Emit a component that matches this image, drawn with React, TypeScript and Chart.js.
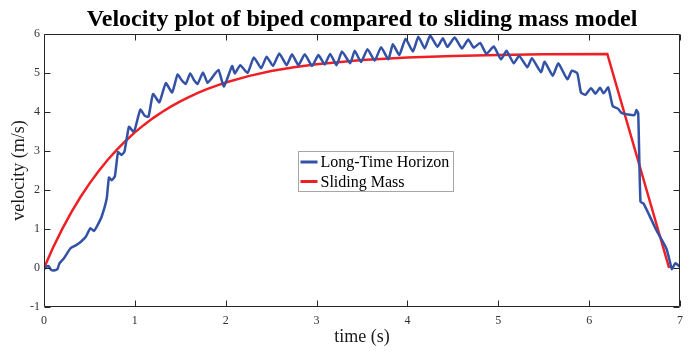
import { useEffect, useRef } from "react";
import { Chart, registerables } from "chart.js";

Chart.register(...registerables);

const TITLE = "Velocity plot of biped compared to sliding mass model";
const X_LABEL = "time (s)";
const Y_LABEL = "velocity (m/s)";
const seriesLabels = ["Long-Time Horizon", "Sliding Mass"];

const xTicks = [0, 1, 2, 3, 4, 5, 6, 7];
const yTicks = [-1, 0, 1, 2, 3, 4, 5, 6];

// Long-Time Horizon (biped) velocity
const blueT = [
  0.0, 0.03, 0.05, 0.08, 0.12, 0.15, 0.17, 0.22, 0.29, 0.35, 0.4, 0.46, 0.51, 0.55, 0.59, 0.635,
  0.69, 0.715, 0.745, 0.78, 0.815, 0.85, 0.885, 0.935, 0.98, 1.0, 1.06, 1.11, 1.15, 1.2, 1.27,
  1.34, 1.41, 1.47, 1.52, 1.56, 1.61, 1.65, 1.69, 1.75, 1.8, 1.84, 1.92, 1.98, 2.07, 2.1, 2.16,
  2.24, 2.31, 2.39, 2.45, 2.52, 2.59, 2.67, 2.73, 2.8, 2.87, 2.95, 3.02, 3.09, 3.15, 3.22, 3.28,
  3.37, 3.42, 3.49, 3.56, 3.64, 3.71, 3.79, 3.84, 3.91, 3.98, 4.06, 4.12, 4.19, 4.25, 4.33, 4.39,
  4.44, 4.52, 4.6, 4.67, 4.73, 4.8, 4.87, 4.95, 5.03, 5.09, 5.17, 5.23, 5.32, 5.37, 5.47, 5.51,
  5.6, 5.66, 5.76, 5.81, 5.87, 5.91, 5.96, 6.02, 6.07, 6.12, 6.16, 6.21, 6.26, 6.32, 6.36, 6.5,
  6.52, 6.54, 6.565, 6.6, 6.74, 6.85, 6.89, 6.91, 6.95, 7.0,
];
const blueV = [
  -0.03, 0.04, 0.05, -0.05, -0.06, -0.02, 0.12, 0.25, 0.5, 0.58, 0.66, 0.8, 1.02, 0.95, 1.1, 1.32,
  1.78, 2.32, 2.25, 2.35, 2.97, 2.9, 2.98, 3.62, 3.5, 3.55, 4.06, 3.9, 3.88, 4.46, 4.25,
  4.74, 4.5, 4.96, 4.8, 4.72, 4.99, 4.82, 4.72, 5.01, 4.75, 4.85, 5.08, 4.65, 5.18, 4.99, 5.2,
  5.0, 5.4, 5.12, 5.42, 5.18, 5.5, 5.2, 5.48, 5.2, 5.48, 5.18, 5.46, 5.22, 5.49, 5.2, 5.55,
  5.25, 5.57, 5.28, 5.61, 5.32, 5.66, 5.35, 5.74, 5.46, 5.88, 5.55, 5.93, 5.63, 5.96, 5.67, 5.89,
  5.67, 5.91, 5.63, 5.86, 5.65, 5.77, 5.49, 5.68, 5.35, 5.57, 5.25, 5.44, 5.15, 5.38, 5.02, 5.29,
  4.93, 5.25, 4.84, 5.06, 4.99, 4.5, 4.44, 4.61, 4.47, 4.62, 4.48, 4.63, 4.15, 4.08, 3.97, 3.92,
  4.05, 3.97, 1.7, 1.65, 0.97, 0.5, 0.15, -0.03, 0.12, 0.03,
];

// Sliding Mass model velocity
const redT = [
  0.0, 0.1, 0.2, 0.3, 0.4, 0.5, 0.6, 0.7, 0.8, 0.9, 1.0, 1.1, 1.2, 1.3, 1.4, 1.5, 1.6, 1.7, 1.8,
  1.9, 2.0, 2.25, 2.5, 2.75, 3.0, 3.5, 4.0, 4.5, 5.0, 5.5, 6.2, 6.88,
];
const redV = [
  0.0, 0.524, 0.997, 1.426, 1.813, 2.164, 2.481, 2.769, 3.029, 3.264, 3.477, 3.669, 3.843, 4.001,
  4.144, 4.273, 4.39, 4.495, 4.591, 4.677, 4.756, 4.92, 5.049, 5.148, 5.226, 5.334, 5.399, 5.439,
  5.463, 5.478, 5.489, 0.0,
];

const SERIF = "'Liberation Serif', 'Times New Roman', serif";
const BLUE = "#3352a6";
const RED = "#ee2025";
const AXIS = "#262626";

const framePlugin = {
  id: "frame",
  afterDatasetsDraw(chart: any) {
    const { ctx, chartArea: a, scales } = chart;
    ctx.save();
    ctx.strokeStyle = AXIS;
    ctx.lineWidth = 1;
    const L = Math.round(a.left) + 0.5;
    const R = Math.round(a.right) - 0.5;
    const T = Math.round(a.top) + 0.5;
    const B = Math.round(a.bottom) - 0.5;
    ctx.beginPath();
    ctx.rect(L, T, R - L, B - T);
    const tl = 6;
    xTicks.forEach((v) => {
      const p = Math.round(scales.x.getPixelForValue(v)) + 0.5;
      ctx.moveTo(p, B);
      ctx.lineTo(p, B - tl);
      ctx.moveTo(p, T);
      ctx.lineTo(p, T + tl);
    });
    yTicks.forEach((v) => {
      const p = Math.round(scales.y.getPixelForValue(v)) + 0.5;
      ctx.moveTo(L, p);
      ctx.lineTo(L + tl, p);
      ctx.moveTo(R, p);
      ctx.lineTo(R - tl, p);
    });
    ctx.stroke();
    ctx.restore();
  },
};

const legendPlugin = {
  id: "boxLegend",
  afterDraw(chart: any) {
    const { ctx, chartArea: a } = chart;
    const w = a.right - a.left;
    const h = a.bottom - a.top;
    const x0 = Math.round(a.left + w * 0.4) + 0.5;
    const y0 = Math.round(a.top + h * 0.429) + 0.5;
    const bw = 155;
    const bh = 40;
    ctx.save();
    ctx.fillStyle = "#ffffff";
    ctx.fillRect(x0, y0, bw, bh);
    ctx.strokeStyle = "#a6a6a6";
    ctx.lineWidth = 1;
    ctx.strokeRect(x0, y0, bw, bh);
    ctx.font = `16px ${SERIF}`;
    ctx.textBaseline = "middle";
    ctx.fillStyle = "#000";
    chart.data.datasets.forEach((ds: any, i: number) => {
      const cy = y0 + 10.5 + i * 19.5;
      ctx.strokeStyle = ds.borderColor;
      ctx.lineWidth = 3;
      ctx.beginPath();
      ctx.moveTo(x0 + 2, cy);
      ctx.lineTo(x0 + 19, cy);
      ctx.stroke();
      ctx.fillText(ds.label, x0 + 22, cy + 1);
    });
    ctx.restore();
  },
};

export default function App() {
  const ref = useRef<HTMLCanvasElement | null>(null);

  useEffect(() => {
    document.body.style.margin = "0";
    if (!ref.current) return;
    const chart = new Chart(ref.current, {
      type: "scatter",
      data: {
        datasets: [
          {
            label: seriesLabels[0],
            data: blueT.map((t, i) => ({ x: t, y: blueV[i] })),
            showLine: true,
            borderColor: BLUE,
            backgroundColor: BLUE,
            borderWidth: 2.5,
            pointRadius: 0,
            tension: 0.15,
          },
          {
            label: seriesLabels[1],
            data: redT.map((t, i) => ({ x: t, y: redV[i] })),
            showLine: true,
            borderColor: RED,
            backgroundColor: RED,
            borderWidth: 2.5,
            pointRadius: 0,
            tension: 0,
          },
        ],
      },
      options: {
        animation: false,
        responsive: false,
        layout: { padding: { left: 0, right: 10, top: 0, bottom: 0 } },
        plugins: {
          legend: { display: false },
          tooltip: { enabled: false },
          title: {
            display: true,
            text: TITLE,
            fullSize: false,
            color: "#000",
            font: { family: SERIF, size: 24, weight: "bold", lineHeight: 1.2 },
            padding: { top: 5.2, bottom: 0 },
          },
        },
        scales: {
          x: {
            type: "linear",
            min: 0,
            max: 7,
            afterBuildTicks: (s: any) => {
              s.ticks = xTicks.map((v) => ({ value: v }));
            },
            afterFit: (s: any) => {
              s.height = 44;
            },
            grid: { display: false, drawTicks: false },
            border: { display: false },
            ticks: {
              font: { family: SERIF, size: 12 },
              color: "#333",
              padding: 7,
              maxRotation: 0,
            },
            title: {
              display: true,
              text: X_LABEL,
              color: "#1a1a1a",
              font: { family: SERIF, size: 18 },
              padding: { top: 0, bottom: 3 },
            },
          },
          y: {
            type: "linear",
            min: -1,
            max: 6,
            afterBuildTicks: (s: any) => {
              s.ticks = yTicks.map((v) => ({ value: v }));
            },
            afterFit: (s: any) => {
              s.width = 44;
            },
            grid: { display: false, drawTicks: false },
            border: { display: false },
            ticks: {
              font: { family: SERIF, size: 12 },
              color: "#333",
              padding: 4,
            },
            title: {
              display: true,
              text: Y_LABEL,
              color: "#1a1a1a",
              font: { family: SERIF, size: 18 },
              padding: { top: 8, bottom: 0 },
            },
          },
        },
      } as any,
      plugins: [framePlugin, legendPlugin],
    });
    return () => chart.destroy();
  }, []);

  return (
    <div style={{ width: 690, height: 351 }}>
      <canvas ref={ref} width={690} height={351} style={{ display: "block" }} />
    </div>
  );
}
